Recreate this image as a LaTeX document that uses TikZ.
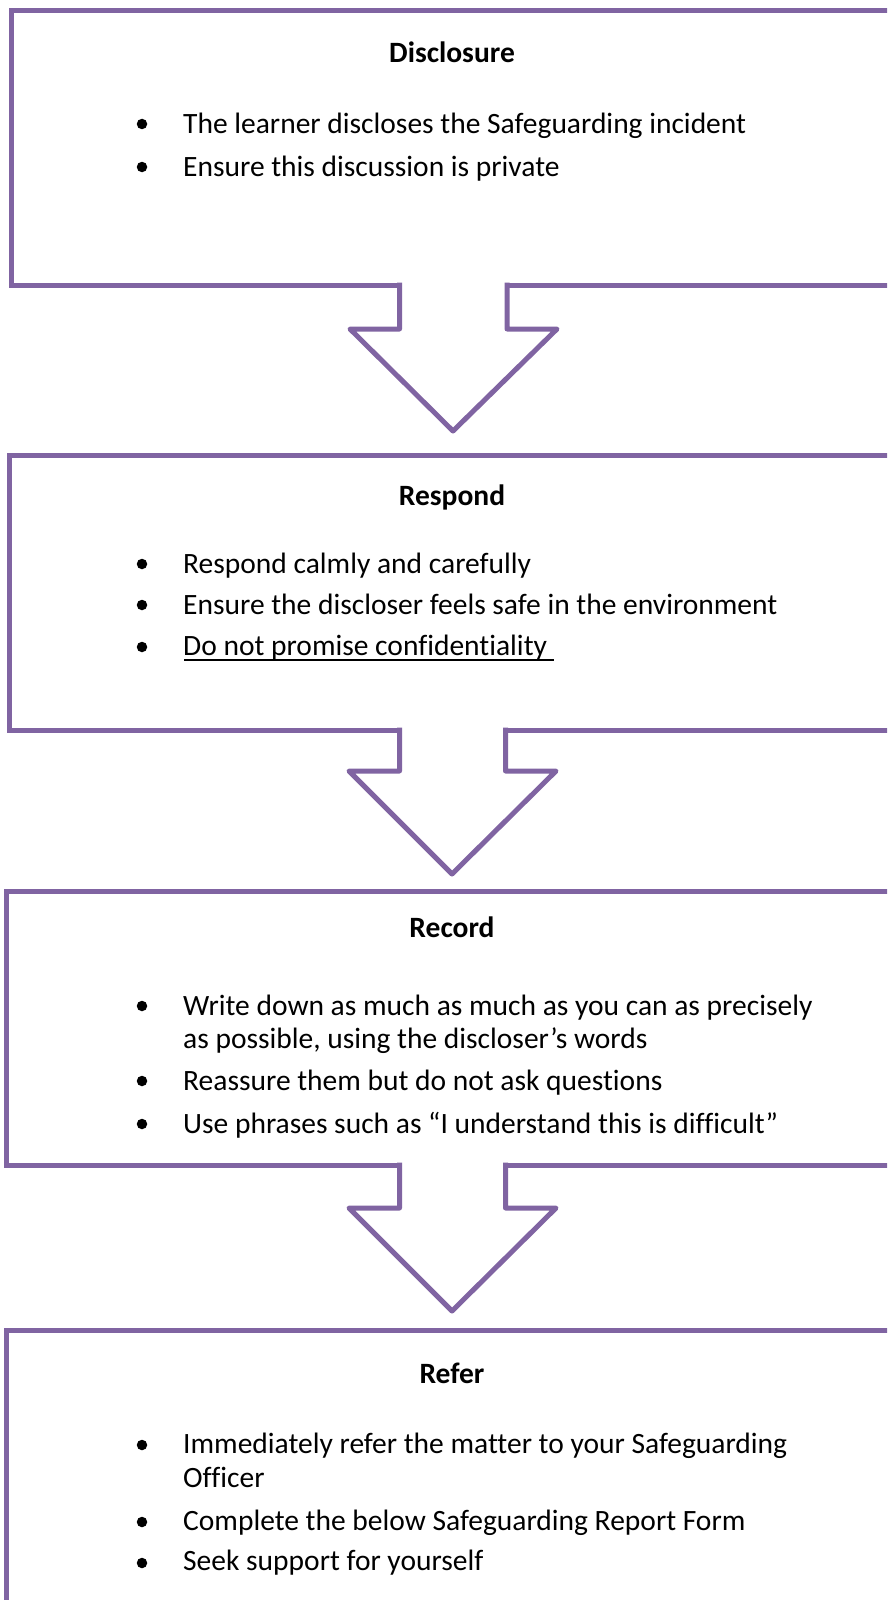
\documentclass[tikz,border=0pt]{standalone}
\usepackage{fontspec}
\setmainfont{Carlito}[Ligatures={NoCommon}]
\definecolor{boxpurple}{HTML}{8064A2}
\begin{document}
\begin{tikzpicture}[x=1pt,y=-1pt,
  frame/.style={draw=boxpurple, line width=5pt},
  arrowline/.style={draw=boxpurple, line width=5pt, line join=round},
  titletext/.style={font=\fontsize{29.5}{36}\selectfont\bfseries, anchor=base, inner sep=0pt},
  itemtext/.style={font=\fontsize{29.5}{36}\selectfont, anchor=base west, inner sep=0pt},
  dot/.style={circle, fill=black, inner sep=0pt, minimum size=10.5pt}]
\useasboundingbox (0,0) rectangle (887,1600);
\clip (0,0) rectangle (887,1600);
\fill[white] (0,0) rectangle (887,1600);

% boxes
\draw[frame] (910,11) -- (11.5,11) -- (11.5,285) -- (910,285);
\draw[frame] (910,455.5) -- (9,455.5) -- (9,730) -- (910,730);
\draw[frame] (910,891.5) -- (6.7,891.5) -- (6.7,1165) -- (910,1165);
\draw[frame] (910,1330.5) -- (6.5,1330.5) -- (6.5,1620);

% arrows
\fill[white] (402,281) rectangle (505,290);
\draw[arrowline] (399.5,282.5) -- (399.5,329) -- (350,329) -- (453,431) -- (557,329) -- (507,329) -- (507,282.5);
\fill[white] (402,726) rectangle (503,735);
\draw[arrowline] (399.5,727.5) -- (399.5,771) -- (349,771) -- (452,874) -- (556,771) -- (505.5,771) -- (505.5,727.5);
\fill[white] (402,1161) rectangle (503,1170);
\draw[arrowline] (399.5,1162.5) -- (399.5,1208) -- (349,1208) -- (452,1311) -- (556,1208) -- (505.5,1208) -- (505.5,1162.5);

% box 1
\node[titletext] (t1) at (452,63) {Disclosure};
\node[dot] (b11) at (142,124) {};
\node[itemtext] (i11) at (183,133) {The learner discloses the Safeguarding incident};
\node[dot] (b12) at (142,167) {};
\node[itemtext] (i12) at (183,176) {Ensure this discussion is private};

% box 2
\node[titletext] (t2) at (452,505) {Respond};
\node[dot] (b21) at (142,564) {};
\node[itemtext] (i21) at (183,573) {Respond calmly and carefully};
\node[dot] (b22) at (142,605) {};
\node[itemtext] (i22) at (183,614) {Ensure the discloser feels safe in the environment};
\node[dot] (b23) at (142,647) {};
\node[itemtext] (i23) at (183,655) {Do not promise confidentiality};
\draw[line width=2pt] (184,660) -- (554,660);

% box 3
\node[titletext] (t3) at (452,937) {Record};
\node[dot] (b31) at (142,1006) {};
\node[itemtext] (i31) at (183,1015) {Write down as much as much as you can as precisely};
\node[itemtext] (i31b) at (183,1048) {as possible, using the discloser’s words};
\node[dot] (b32) at (142,1081) {};
\node[itemtext] (i32) at (183,1090) {Reassure them but do not ask questions};
\node[dot] (b33) at (142,1124) {};
\node[itemtext] (i33) at (183,1133) {Use phrases such as “I understand this is difficult”};

% box 4
\node[titletext] (t4) at (452,1383) {Refer};
\node[dot] (b41) at (142,1445) {};
\node[itemtext] (i41) at (183,1453) {Immediately refer the matter to your Safeguarding};
\node[itemtext] (i41b) at (183,1487) {Officer};
\node[dot] (b42) at (142,1522) {};
\node[itemtext] (i42) at (183,1530) {Complete the below Safeguarding Report Form};
\node[dot] (b43) at (142,1563) {};
\node[itemtext] (i43) at (183,1570) {Seek support for yourself};
\end{tikzpicture}
\end{document}
